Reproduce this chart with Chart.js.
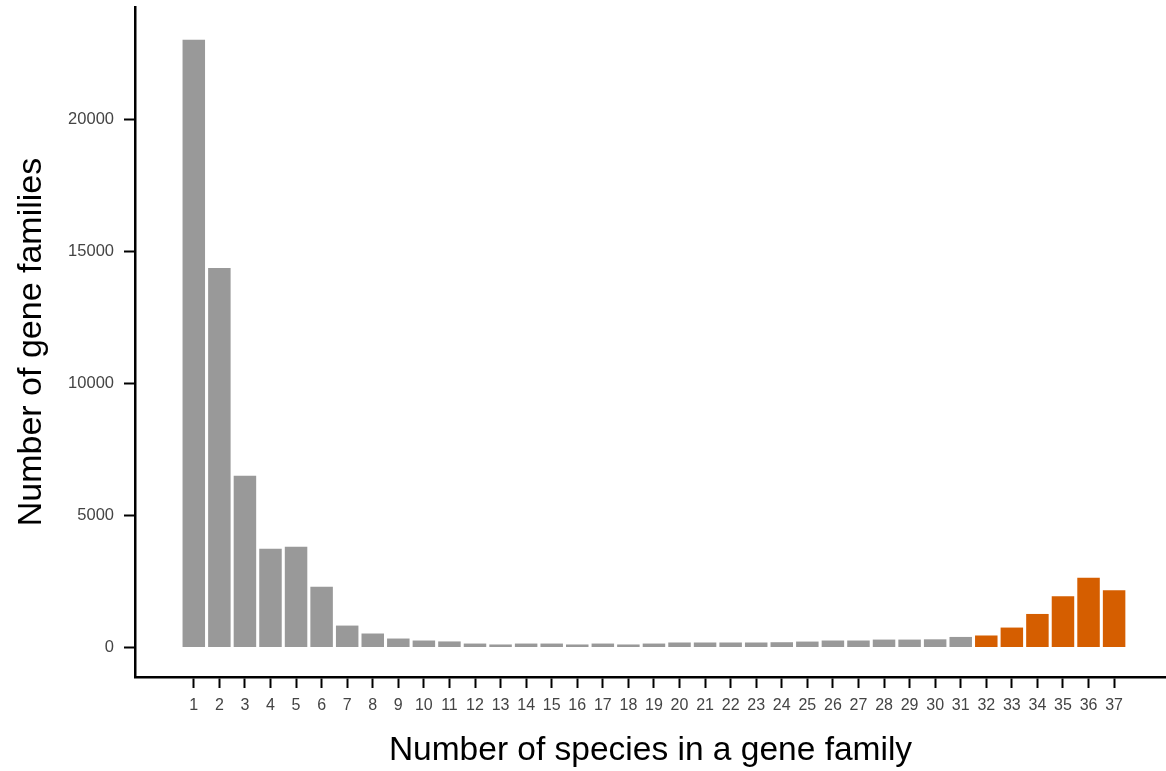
<!DOCTYPE html>
<html>
<head>
<meta charset="utf-8">
<script src="https://cdn.jsdelivr.net/npm/chart.js@4/dist/chart.umd.min.js"></script>
<style>
  html, body { margin: 0; padding: 0; background: #fff; }
  #wrap { width: 1166px; height: 771px; }
</style>
</head>
<body>
<div id="wrap"><canvas id="chart" width="1166" height="771"></canvas></div>
<script>
// number of species in a gene family (x categories)
const species = [1, 2, 3, 4, 5, 6, 7, 8, 9, 10, 11, 12, 13, 14, 15, 16, 17, 18, 19,
  20, 21, 22, 23, 24, 25, 26, 27, 28, 29, 30, 31, 32, 33, 34, 35, 36, 37];
// number of gene families per category
const families = [23000, 14360, 6500, 3740, 3810, 2300, 830, 530, 340, 265, 230, 150,
  115, 150, 150, 115, 150, 115, 150, 190, 190, 190, 190, 200, 225, 265, 265, 300,
  300, 310, 400, 455, 755, 1270, 1940, 2640, 2170];
// y tick labels
const yTicks = [0, 5000, 10000, 15000, 20000];
// first category drawn in orange
const coreStart = 32;

const GREY = '#999999';
const ORANGE = '#D55E00';
const FONT = "'Liberation Sans', Arial, Helvetica, sans-serif";

const points = species.map((s, i) => ({ x: s, y: families[i] }));

new Chart(document.getElementById('chart'), {
  type: 'bar',
  data: {
    datasets: [{
      data: points,
      backgroundColor: ctx => (ctx.raw && ctx.raw.x >= coreStart ? ORANGE : GREY),
      borderWidth: 0,
      categoryPercentage: 1.0,
      barPercentage: 0.88
    }]
  },
  options: {
    responsive: false,
    animation: false,
    layout: { padding: { top: 7, right: 0, bottom: 0, left: 0 } },
    plugins: { legend: { display: false }, tooltip: { enabled: false } },
    scales: {
      x: {
        type: 'linear',
        offset: false,
        min: -1.30,
        max: 39.03,
        afterBuildTicks: axis => { axis.ticks = species.map(v => ({ value: v })); },
        afterFit: axis => { axis.height = 94; axis.paddingLeft = 0; axis.paddingRight = 0; },
        border: { display: true, color: '#000', width: 2.5 },
        grid: { offset: false, drawOnChartArea: false, drawTicks: true, tickLength: 11, tickWidth: 2, tickColor: '#000' },
        ticks: { color: '#444', font: { family: FONT, size: 16 }, padding: 8, autoSkip: false, maxRotation: 0 },
        title: {
          display: true,
          text: 'Number of species in a gene family',
          color: '#000',
          font: { family: FONT, size: 33.5 },
          padding: { top: 0, bottom: 0 }
        }
      },
      y: {
        min: -1116,
        max: 24240,
        afterBuildTicks: axis => { axis.ticks = yTicks.map(v => ({ value: v })); },
        afterFit: axis => { axis.width = 135; axis.paddingTop = 0; axis.paddingBottom = 0; },
        border: { display: true, color: '#000', width: 2.5 },
        grid: { drawOnChartArea: false, drawTicks: true, tickLength: 11, tickWidth: 2, tickColor: '#000' },
        ticks: { color: '#444', font: { family: FONT, size: 16.5 }, padding: 10, callback: v => String(v) },
        title: {
          display: true,
          text: 'Number of gene families',
          color: '#000',
          font: { family: FONT, size: 34 },
          padding: { top: 11, bottom: 0 }
        }
      }
    }
  }
});
</script>
</body>
</html>
